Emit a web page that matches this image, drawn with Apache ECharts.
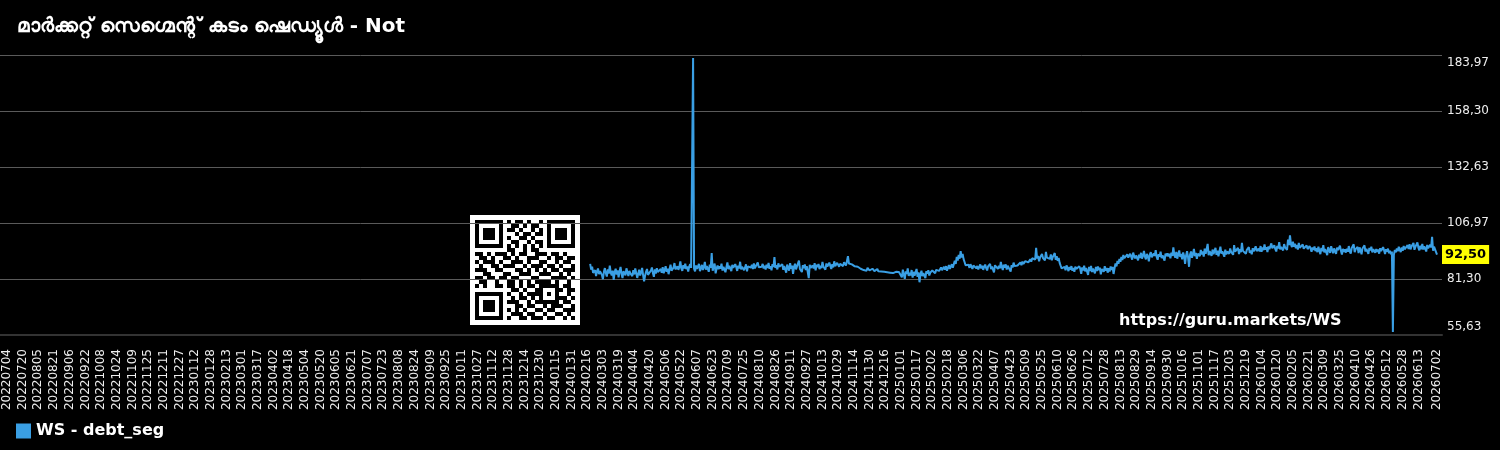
<!DOCTYPE html>
<html lang="ml">
<head>
<meta charset="UTF-8">
<title>WS - debt_seg</title>
<script src="https://cdn.jsdelivr.net/npm/echarts@6/dist/echarts.min.js"></script>
<style>
    html, body { margin: 0; padding: 0; background: #000; }
    #main { width: 1500px; height: 450px; }
</style>
</head>
<body>
<div id="main"></div>
<script>
    // x categories: every calendar day between these two dates
    var firstDay = '2022-07-04';
    var lastDay = '2026-07-02';

    // y axis ticks
    var yMin = 55.63;
    var yMax = 183.97;
    var yStep = 25.668;

    var seriesName = 'WS - debt_seg';
    var chartTitle = 'മാർക്കറ്റ് സെഗ്മെന്റ് കടം ഷെഡ്യൂൾ - Not';
    var watermark = 'https://guru.markets/WS';

    // daily values, one line per month (series starts 2024-02-19, ends on lastDay)
    var v2024q1 = [
        88.2, 85.6, 86.9, 84.1, 83.2, 85.4, 82.6, 84.8, 86.1, 83.5, 84.9,
        85.8, 83.1, 81.2, 84.6, 86.3, 84.0, 82.4, 85.7, 83.8, 87.4, 84.2, 82.9, 85.1, 80.9, 84.5, 86.0, 83.3, 85.2, 82.1, 84.7, 86.8, 83.6, 81.7, 84.9, 85.5, 83.0, 86.2, 84.4, 82.7, 85.0, 83.9
    ];
    var v2024q2 = [
        84.8, 82.6, 85.3, 83.4, 86.1, 84.0, 81.8, 83.7, 85.6, 82.9, 84.3, 86.4, 83.1, 80.2, 82.8, 84.6, 85.9, 83.2, 84.1, 82.5, 85.2, 86.6, 84.0, 82.3, 85.7, 83.8, 86.2, 84.5, 85.1, 83.6,
        85.9, 84.2, 86.7, 83.9, 85.4, 87.2, 84.6, 86.0, 83.5, 85.8, 87.9, 85.1, 84.3, 86.5, 88.6, 85.7, 84.9, 87.1, 85.5, 86.8, 89.4, 86.2, 85.0, 87.6, 86.1, 88.3, 85.8, 87.0, 84.7, 86.9, 88.1,
        86.4, 87.3, 182.6, 86.0, 84.8, 87.5, 85.9, 86.7, 88.2, 84.9, 86.3, 87.8, 85.4, 86.9, 89.1, 85.6, 87.2, 86.0, 84.6, 87.9, 86.5, 93.2, 85.1, 86.8, 88.4, 83.9, 86.2, 87.5, 85.8, 87.1
    ];
    var v2024q3 = [
        86.0, 88.3, 85.2, 86.9, 87.6, 84.4, 86.7, 88.9, 85.8, 87.3, 86.1, 84.9, 87.8, 86.4, 85.5, 88.1, 86.8, 85.0, 87.4, 86.2, 89.2, 85.7, 86.9, 87.7, 85.3, 86.6, 88.0, 84.8, 87.1, 86.3, 87.9,
        86.5, 87.8, 85.9, 88.4, 86.2, 87.0, 85.4, 88.9, 86.7, 87.5, 85.8, 86.9, 88.2, 86.1, 87.4, 85.6, 87.9, 86.3, 88.7, 86.0, 87.2, 85.3, 88.1, 86.8, 91.3, 86.4, 87.6, 85.7, 88.5, 86.9, 87.3,
        86.2, 88.1, 85.5, 87.3, 86.8, 84.2, 87.9, 86.4, 85.1, 88.6, 86.0, 87.4, 83.6, 86.9, 88.3, 85.7, 87.1, 86.5, 89.7, 85.9, 86.8, 84.5, 87.6, 86.2, 88.0, 85.4, 87.2, 86.7, 81.7, 87.8
    ];
    var v2024q4 = [
        86.4, 86.8, 87.5, 86.1, 88.6, 85.3, 87.9, 86.7, 88.2, 85.8, 87.4, 86.3, 89.1, 86.9, 87.7, 85.6, 88.4, 87.0, 86.2, 88.8, 87.3, 85.9, 88.1, 86.6, 89.4, 87.2, 86.5, 88.7, 87.8, 86.9, 88.3,
        87.9, 88.6, 87.2, 89.0, 88.1, 87.5, 89.6, 91.8, 88.4, 87.7, 89.2, 88.0, 87.3, 88.5, 87.1, 86.6, 87.8, 86.9, 86.2, 87.4, 86.0, 85.7, 86.8, 85.4, 86.3, 85.9, 85.1, 86.4, 85.6, 85.2,
        85.8, 85.3, 86.0, 85.5, 84.9, 85.7, 85.2, 85.9, 84.8, 85.4, 85.1, 84.7, 85.6, 85.0, 84.6, 85.3, 84.9, 84.4, 85.1, 84.7, 84.2, 85.0, 84.5, 84.0, 84.8, 83.9, 84.6, 84.1, 83.7, 84.5, 83.8
    ];
    var v2025q1 = [
        84.3, 82.1, 85.6, 83.2, 81.4, 84.8, 83.6, 86.2, 82.7, 84.1, 83.0, 85.4, 81.9, 84.6, 82.8, 83.7, 85.9, 82.3, 84.4, 79.8, 83.5, 85.1, 82.6, 84.0, 83.3, 81.7, 84.9, 83.8, 85.3, 82.9, 84.2,
        83.6, 85.2, 84.4, 86.0, 83.9, 85.5, 84.7, 86.3, 85.0, 84.2, 86.6, 85.3, 84.8, 86.9, 85.6, 87.2, 85.1, 86.4, 87.7, 85.9, 86.8, 88.1, 86.5, 87.4, 89.6, 88.2, 91.4, 89.8,
        92.3, 90.6, 94.1, 91.2, 92.8, 90.4, 89.1, 87.6, 88.3, 86.9, 87.8, 86.4, 88.1, 87.0, 85.9, 87.5, 86.6, 88.4, 86.2, 87.3, 85.7, 86.8, 88.0, 86.1, 87.4, 85.5, 86.9, 87.9, 86.3, 85.2, 87.1
    ];
    var v2025q2 = [
        86.4, 88.2, 85.8, 87.0, 86.1, 84.3, 87.6, 86.7, 88.5, 85.9, 87.3, 86.2, 89.1, 86.8, 85.4, 87.9, 86.5, 88.0, 85.6, 87.4, 88.3, 86.9, 84.7, 87.7, 86.6, 88.8, 87.2, 86.3, 88.1, 87.5,
        88.0, 87.4, 88.9, 87.6, 89.3, 88.2, 87.8, 89.5, 88.6, 90.1, 88.9, 89.7, 90.4, 89.2, 90.8, 89.9, 91.3, 90.2, 95.6, 90.7, 91.9, 89.4, 91.2, 90.6, 92.8, 90.9, 91.6, 89.8, 93.7, 91.1, 90.4,
        91.8, 90.5, 92.6, 89.9, 91.4, 90.8, 93.2, 90.1, 91.7, 89.6, 90.9, 88.7, 87.4, 86.2, 87.1, 85.8, 86.9, 85.3, 87.5, 86.4, 84.9, 86.8, 85.6, 87.2, 85.1, 86.3, 84.6, 87.0, 85.9, 86.5
    ];
    var v2025q3 = [
        85.4, 87.1, 86.0, 83.7, 86.6, 85.2, 87.4, 84.8, 86.3, 85.7, 83.2, 86.9, 85.0, 87.3, 84.5, 86.1, 85.6, 83.9, 86.8, 84.9, 87.0, 85.3, 86.5, 83.4, 85.9, 86.7, 84.6, 87.2, 85.1, 86.4, 84.2,
        86.3, 84.7, 87.0, 85.5, 86.8, 83.6, 86.2, 88.4, 87.1, 89.6, 88.3, 90.5, 89.2, 91.4, 90.0, 92.3, 90.8, 91.7, 89.9, 92.6, 91.1, 90.4, 92.9, 91.5, 90.2, 93.4, 91.8, 90.7, 92.1, 91.3, 89.8,
        92.4, 91.0, 93.3, 90.6, 92.0, 94.2, 91.5, 90.3, 92.8, 91.7, 89.4, 92.5, 93.6, 91.2, 90.8, 93.0, 91.9, 94.5, 91.4, 90.1, 92.7, 91.6, 93.8, 90.9, 92.2, 91.3, 89.7, 92.9, 91.8, 93.1
    ];
    var v2025q4 = [
        91.6, 92.9, 90.8, 93.4, 91.9, 95.8, 92.3, 91.1, 93.7, 90.6, 92.6, 94.4, 91.4, 92.8, 90.3, 93.5, 91.7, 88.2, 92.1, 94.0, 91.3, 86.9, 92.4, 93.9, 91.0, 92.7, 95.1, 91.8, 93.2, 90.5, 92.9,
        93.4, 91.8, 94.6, 92.5, 93.9, 91.6, 95.2, 92.8, 93.6, 97.4, 92.2, 94.1, 93.0, 91.9, 94.8, 92.7, 93.5, 95.6, 92.4, 94.3, 91.7, 93.8, 96.1, 92.9, 94.0, 93.2, 91.5, 94.7, 92.6, 93.9,
        94.5, 92.8, 95.3, 93.7, 94.1, 92.4, 96.8, 93.9, 94.6, 93.1, 95.5, 92.7, 94.9, 93.6, 97.9, 94.2, 93.4, 95.1, 92.9, 94.7, 93.8, 95.9, 93.3, 94.4, 92.6, 95.4, 94.0, 93.5, 96.3, 94.1, 93.7
    ];
    var v2026q1 = [
        95.2, 94.0, 96.4, 93.8, 95.7, 94.5, 97.1, 94.8, 95.9, 93.6, 96.2, 95.0, 94.3, 97.6, 95.4, 94.7, 96.8, 95.1, 93.9, 96.5, 95.3, 98.2, 94.9, 96.0, 95.6, 94.4, 97.3, 95.8, 96.6, 94.6, 99.4,
        96.8, 101.3, 97.2, 95.9, 98.4, 96.1, 97.5, 95.4, 96.9, 94.8, 97.8, 95.6, 96.3, 94.9, 97.1, 95.2, 96.0, 94.5, 96.7, 95.0, 94.2, 96.4, 95.3, 93.8, 95.8, 94.6, 96.2, 94.1,
        95.4, 93.6, 96.1, 94.3, 92.7, 95.6, 94.0, 96.8, 93.5, 95.0, 94.4, 92.2, 95.9, 94.6, 93.3, 96.3, 94.8, 93.1, 95.3, 94.1, 92.8, 95.7, 94.5, 93.9, 96.6, 94.2, 92.5, 95.1, 93.7, 94.9, 93.4
    ];
    var v2026q2 = [
        95.2, 93.8, 96.4, 94.0, 92.9, 95.5, 94.7, 97.2, 93.6, 95.0, 94.3, 96.0, 93.2, 95.8, 94.5, 92.6, 95.3, 94.9, 96.7, 93.9, 95.1, 94.2, 92.8, 95.6, 94.4, 96.1, 93.5, 95.0, 94.6, 93.3,
        95.0, 93.7, 94.8, 92.9, 95.4, 94.1, 93.3, 95.9, 94.5, 92.7, 94.9, 93.8, 95.2, 93.1, 94.3, 92.6, 93.9, 57.0, 92.4, 94.6, 93.5, 95.3, 94.0, 96.1, 94.7, 93.6, 95.8, 94.2, 96.4, 94.9, 95.5,
        94.6, 96.8, 95.1, 97.3, 94.9, 96.2, 95.5, 97.8, 94.7, 96.0, 95.3, 98.1, 95.7, 94.4, 96.6, 95.0, 97.4, 94.8, 96.3, 95.2, 93.9, 96.9, 95.4, 94.5, 97.0, 95.8, 100.6, 94.3, 96.1, 94.9
    ];
    var v2026q3 = [
        94.0, 92.5
    ];

    // QR code modules (decoration), 25 x 25
    var qrRows = [
        '1111111010110100101111111',
        '1000001001101011001000001',
        '1011101011010010101011101',
        '1011101000101101101011101',
        '1011101010011010001011101',
        '1000001001100101101000001',
        '1111111010101010101111111',
        '0000000011001011000000000',
        '1101011101011001110110100',
        '0110100110100111001011011',
        '1011101001110100110010110',
        '0100110111001011101101001',
        '1110011000110101010110111',
        '0011000110011100111001010',
        '1101101101100011000111101',
        '0110010011010101111010010',
        '1010011011010110111110110',
        '0000000001101001100011011',
        '1111111010010111101010010',
        '1000001001011010100011101',
        '1011101011100101111110110',
        '1011101000110110010111001',
        '1011101010101001101100111',
        '1000001001110110010011010',
        '1111111010011011101100101'
    ];

    function buildDays(a, b) {
        var out = [];
        var d = new Date(a + 'T00:00:00Z');
        var end = new Date(b + 'T00:00:00Z');
        while (d <= end) {
            out.push(d.toISOString().slice(0, 10).replace(/-/g, ''));
            d.setUTCDate(d.getUTCDate() + 1);
        }
        return out;
    }

    var days = buildDays(firstDay, lastDay);
    var values = [].concat(v2024q1, v2024q2, v2024q3, v2024q4, v2025q1, v2025q2,
        v2025q3, v2025q4, v2026q1, v2026q2, v2026q3);
    var startIdx = days.length - values.length;
    var seriesData = days.map(function (d, i) {
        return i < startIdx ? null : values[i - startIdx];
    });
    var lastValue = values[values.length - 1];
    var lastIdx = days.length - 1;

    function fmt(v) {
        return Number(v).toFixed(2).replace('.', ',');
    }

    // qr graphic
    var qrCells = [];
    qrRows.forEach(function (row, r) {
        for (var c = 0; c < row.length; c++) {
            if (row[c] === '1') {
                qrCells.push({
                    type: 'rect',
                    shape: { x: 5 + c * 4, y: 5 + r * 4, width: 4, height: 4 },
                    style: { fill: '#000' }
                });
            }
        }
    });

    var blue = '#3a9fe4';
    var font = '"DejaVu Sans", "Noto Sans", sans-serif';

    var myChart = echarts.init(document.getElementById('main'));
    var option = {
        animation: false,
        backgroundColor: '#000',
        textStyle: { fontFamily: font },
        title: {
            text: chartTitle,
            left: 12,
            top: 12,
            textStyle: { color: '#fff', fontSize: 20, fontWeight: 'bold', fontFamily: font }
        },
        legend: {
            left: 11,
            top: 418,
            icon: 'rect',
            itemWidth: 15,
            itemHeight: 15,
            data: [seriesName],
            textStyle: { color: '#fff', fontSize: 16, fontWeight: 'bold', fontFamily: font }
        },
        grid: [
            { left: 0, right: 58, top: 55, bottom: 115 },
            { left: 7, right: 63, top: 55, bottom: 115 }
        ],
        xAxis: [
            {
                gridIndex: 0,
                type: 'value',
                min: 0,
                max: 1,
                axisLabel: { show: false },
                axisTick: { show: false },
                splitLine: { show: false },
                axisLine: { show: true, lineStyle: { color: '#333', width: 2 } }
            },
            {
                gridIndex: 1,
                type: 'category',
                data: days,
                boundaryGap: false,
                axisLine: { show: false },
                axisTick: { show: false },
                axisLabel: {
                    rotate: 90,
                    color: '#eee',
                    fontSize: 12,
                    margin: 14,
                    hideOverlap: false,
                    interval: function (index) {
                        return (index % 16 === 0 && index <= lastIdx - 16) || index === lastIdx;
                    }
                }
            }
        ],
        yAxis: [
            {
                gridIndex: 0,
                type: 'value',
                min: yMin,
                max: yMax,
                interval: yStep,
                axisLabel: { show: false },
                axisLine: { show: false },
                axisTick: { show: false },
                splitLine: { show: true, lineStyle: { color: '#5a5a5a', width: 1 } }
            },
            {
                gridIndex: 1,
                type: 'value',
                position: 'right',
                min: yMin,
                max: yMax,
                interval: yStep,
                axisLine: { show: false },
                axisTick: { show: false },
                splitLine: { show: false },
                axisLabel: {
                    color: '#eee',
                    fontSize: 12,
                    margin: 10,
                    formatter: fmt,
                    verticalAlignMinLabel: 'bottom',
                    verticalAlignMaxLabel: 'top',
                    padding: [2, 0, 2, 0]
                }
            }
        ],
        series: [{
            name: seriesName,
            type: 'line',
            xAxisIndex: 1,
            yAxisIndex: 1,
            data: seriesData,
            showSymbol: false,
            lineStyle: { color: blue, width: 2 },
            itemStyle: { color: blue },
            markLine: {
                silent: true,
                symbol: ['none', 'none'],
                lineStyle: { color: 'rgba(0,0,0,0)', width: 0, type: 'solid' },
                label: {
                    show: true,
                    position: 'end',
                    distance: 5,
                    formatter: function () { return fmt(lastValue); },
                    backgroundColor: '#ffff00',
                    color: '#000',
                    fontWeight: 'bold',
                    fontSize: 13,
                    padding: [3, 3, 3, 3]
                },
                data: [{ yAxis: lastValue }]
            }
        }],
        graphic: [
            {
                type: 'group',
                x: 470,
                y: 215,
                z: 100,
                children: [{
                    type: 'rect',
                    shape: { x: 0, y: 0, width: 110, height: 110 },
                    style: { fill: '#fff' }
                }].concat(qrCells)
            },
            {
                type: 'text',
                left: 1119,
                top: 313,
                z: 100,
                style: {
                    text: watermark,
                    fill: '#fff',
                    font: 'bold 16px ' + font
                }
            }
        ]
    };
    myChart.setOption(option);
</script>
</body>
</html>
